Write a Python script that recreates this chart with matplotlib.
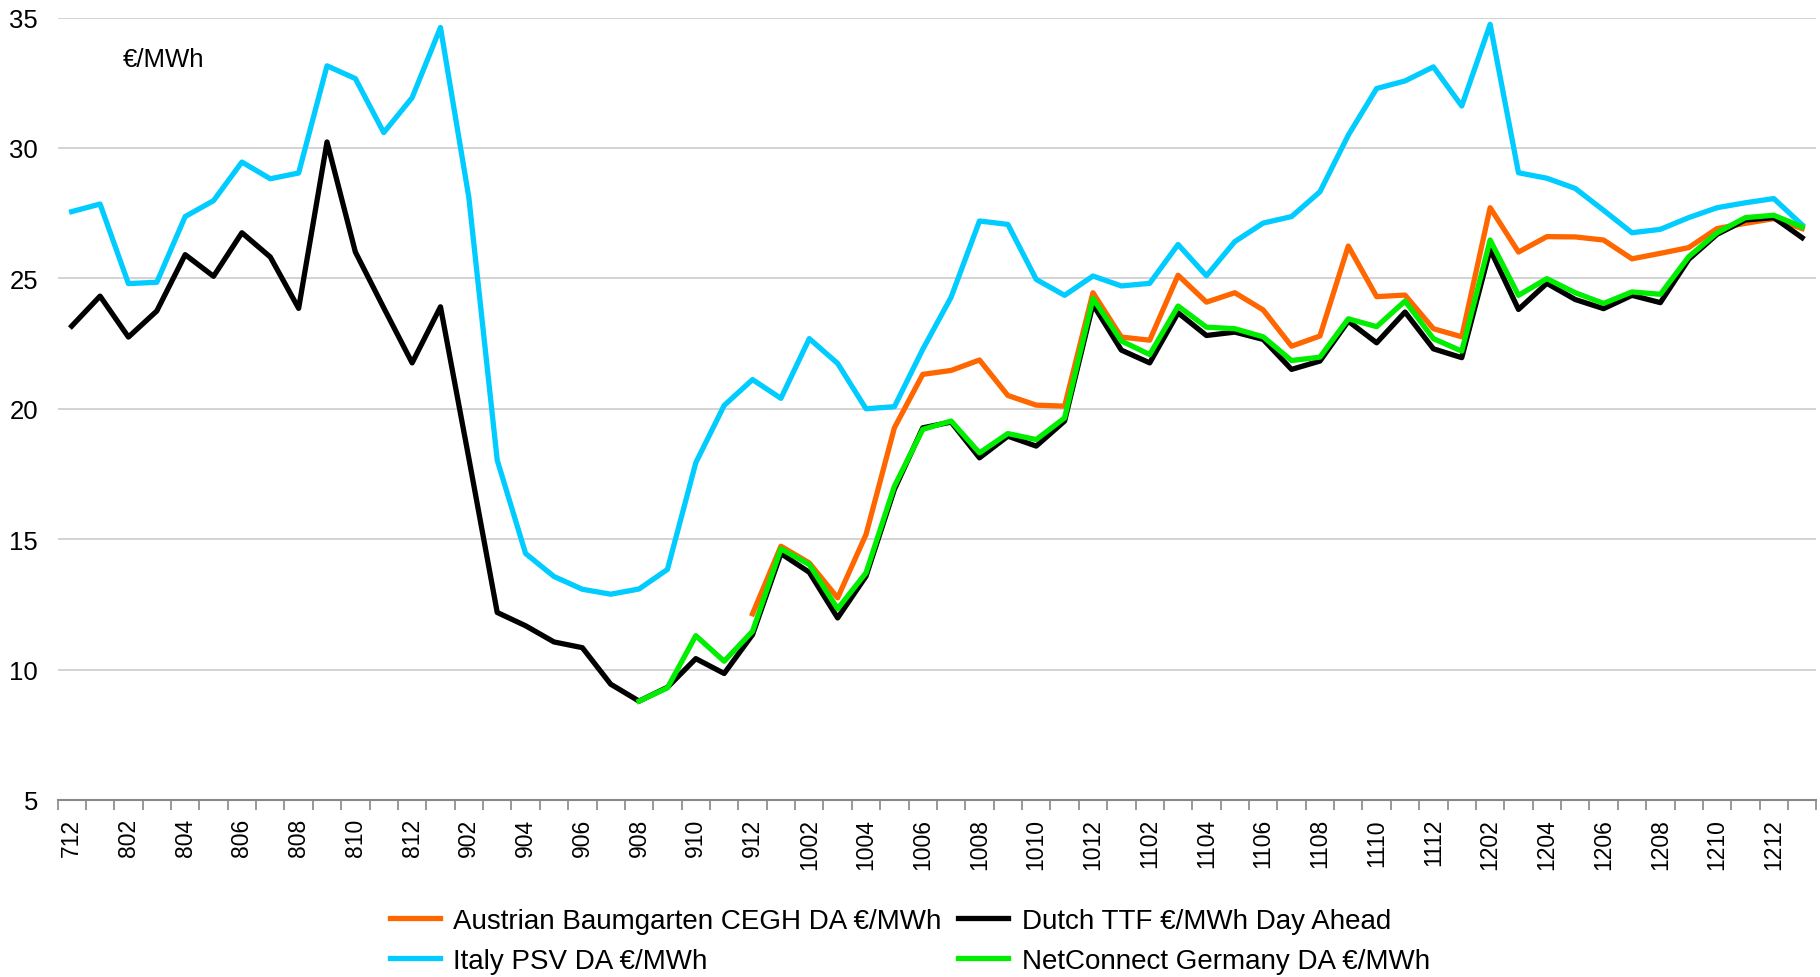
import numpy as np
import matplotlib
matplotlib.use("Agg")
import matplotlib.pyplot as plt

plt.rcParams['font.family'] = ['Liberation Sans', 'DejaVu Sans']

months = ['712',
          '801', '802', '803', '804', '805', '806', '807', '808', '809', '810', '811', '812',
          '901', '902', '903', '904', '905', '906', '907', '908', '909', '910', '911', '912',
          '1001', '1002', '1003', '1004', '1005', '1006', '1007', '1008', '1009', '1010', '1011', '1012',
          '1101', '1102', '1103', '1104', '1105', '1106', '1107', '1108', '1109', '1110', '1111', '1112',
          '1201', '1202', '1203', '1204', '1205', '1206', '1207', '1208', '1209', '1210', '1211', '1212',
          '1301']

nan = np.nan
austria = [nan] * 24 + [
    12.14, 14.73, 14.09, 12.75, 15.18, 19.27, 21.32, 21.47, 21.87, 20.51, 20.14, 20.10,
    24.45, 22.75, 22.63, 25.12, 24.09, 24.45, 23.79, 22.40, 22.79, 26.24, 24.30, 24.36,
    23.07, 22.76, 27.71, 26.01, 26.60, 26.59, 26.47, 25.75, 25.96, 26.18, 26.91, 27.11,
    27.29, 26.91]

dutch = [23.17, 24.32, 22.75, 23.75, 25.91, 25.08, 26.75, 25.82, 23.85, 30.23, 26.01, 23.87,
         21.76, 23.91, 18.10, 12.19, 11.68, 11.06, 10.84, 9.44, 8.79, 9.32, 10.42, 9.85,
         11.34, 14.45, 13.73, 11.98, 13.58, 16.91, 19.27, 19.49, 18.12, 18.95, 18.57, 19.53,
         24.00, 22.25, 21.76, 23.68, 22.81, 22.94, 22.66, 21.51, 21.83, 23.36, 22.53, 23.71,
         22.30, 21.96, 26.11, 23.81, 24.81, 24.19, 23.84, 24.35, 24.07, 25.73, 26.69, 27.24,
         27.33, 26.56]

italy = [27.56, 27.85, 24.80, 24.85, 27.37, 27.98, 29.46, 28.82, 29.04, 33.15, 32.66, 30.59,
         31.93, 34.62, 28.10, 18.03, 14.45, 13.57, 13.08, 12.89, 13.09, 13.84, 17.93, 20.13,
         21.12, 20.40, 22.69, 21.74, 20.00, 20.08, 22.28, 24.28, 27.20, 27.07, 24.96, 24.35,
         25.09, 24.71, 24.81, 26.30, 25.10, 26.41, 27.12, 27.37, 28.32, 30.49, 32.28, 32.57,
         33.11, 31.61, 34.74, 29.05, 28.84, 28.45, 27.61, 26.75, 26.88, 27.33, 27.71, 27.90,
         28.06, 27.05]

germany = [nan] * 20 + [
    8.79, 9.30, 11.30, 10.32, 11.47, 14.63, 14.03, 12.33, 13.71, 17.03, 19.21, 19.53,
    18.31, 19.05, 18.82, 19.65, 24.23, 22.60, 22.08, 23.94, 23.13, 23.07, 22.76, 21.85,
    21.98, 23.45, 23.15, 24.13, 22.69, 22.21, 26.47, 24.35, 24.99, 24.45, 24.04, 24.48,
    24.39, 25.83, 26.75, 27.33, 27.42, 26.97]

x = np.arange(len(months))

fig = plt.figure(figsize=(18.2, 9.78), dpi=100)
ax = fig.add_axes([0.0316, 0.181, 0.9664, 0.800])

lw = 3.8
l_it, = ax.plot(x, italy, color='#00CCFF', lw=lw, label='Italy PSV DA €/MWh', zorder=3)
l_at, = ax.plot(x, austria, color='#FF6600', lw=lw, label='Austrian Baumgarten CEGH DA €/MWh', zorder=4)
l_nl, = ax.plot(x, dutch, color='#000000', lw=lw, label='Dutch TTF €/MWh Day Ahead', zorder=5)
l_de, = ax.plot(x, germany, color='#00EE00', lw=lw, label='NetConnect Germany DA €/MWh', zorder=6)

ax.set_xlim(-0.5, len(months) - 0.5)
ax.set_ylim(5, 35)
ax.set_yticks([5, 10, 15, 20, 25, 30, 35])
ax.yaxis.grid(True, color='#D0D0D0', lw=1.3)
ax.set_axisbelow(True)
ax.tick_params(axis='y', length=0, labelsize=18.5, pad=14)

# labels every other month, tick marks between categories
ax.set_xticks(x[::2])
ax.set_xticklabels(months[::2], rotation=90, fontsize=16.5)
ax.set_xticks(np.arange(-0.5, len(months), 1.0), minor=True)
ax.tick_params(axis='x', which='major', length=0, pad=13)
ax.tick_params(axis='x', which='minor', length=7, width=1.2, color='#888888')

for s in ['top', 'right', 'left']:
    ax.spines[s].set_visible(False)
ax.spines['bottom'].set_color('#888888')
ax.spines['bottom'].set_linewidth(1.5)

ax.text(0.037, 0.962, '€/MWh', transform=ax.transAxes, fontsize=18.5, va='top', ha='left')

fig.legend(handles=[l_at, l_it, l_nl, l_de], loc='lower center', bbox_to_anchor=(0.5, -0.022),
           ncol=2, frameon=False, fontsize=20, handlelength=1.8, handletextpad=0.5,
           columnspacing=0.6, labelspacing=0.5)

fig.savefig('out.png', dpi=100)
